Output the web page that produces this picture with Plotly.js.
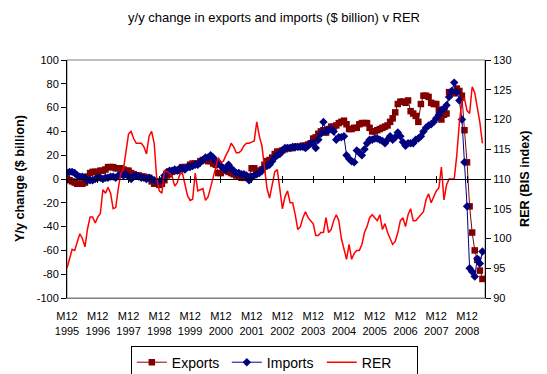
<!DOCTYPE html>
<html>
<head>
<meta charset="utf-8">
<script src="https://cdn.plot.ly/plotly-3.0.1.min.js"></script>
<style>html,body{margin:0;padding:0;background:#fff;}#chart{width:547px;height:374px;}</style>
</head>
<body>
<div id="chart"></div>
<script>
// Monthly categories: M12 1995 ... (163 data months + one empty category)
const startYear = 1995;
const nMonths = 163;
const months = [];
for (let i = 0; i < nMonths + 1; i++) {
  const m = ((11 + i) % 12) + 1;
  const y = startYear + Math.floor((11 + i) / 12);
  months.push('M' + m + ' ' + y);
}

const exportsYY = [
  0, -1, -2, -3, -4, -4, -4, -3, 2, 5,
  6, 6, 6, 7, 7, 8, 10, 10, 10, 9,
  9, 9, 8, 7, 7, 5, 4, 3, 3, 2,
  2, 1, 1, -2, -4, -4, -5, -4, -1, 3,
  4, 6, 7, 7, 8, 10, 10, 10, 12, 13,
  13, 13, 15, 16, 16, 15, 15, 13, 12, 5,
  5, 8, 7, 6, 5, 4, 3, 2, 1, 1,
  1, 2, 9, 9, 7, 6, 8, 12, 15, 16,
  18, 21, 23, 23, 24, 25, 26, 26, 26, 27,
  27, 27, 28, 28, 29, 30, 34, 35, 38, 40,
  41, 39, 42, 44, 44, 45, 47, 48, 49, 46,
  42, 42, 43, 43, 46, 47, 47, 47, 43, 40,
  40, 41, 42, 43, 44, 45, 48, 51, 56, 63,
  65, 65, 64, 66, 57, 55, 53, 48, 63, 70,
  70, 69, 64, 63, 63, 58, 50, 54, 55, 73,
  73, 72, 76, 74, 70, 41, 14, -23, -45, -60,
  -68, -77, -84
];

const importsYY = [
  5, 6, 6, 5, 3, 2, 2, 1, -1, -1,
  -1, 0, 1, 1, 0, 1, 1, 2, 2, 1,
  3, 4, 3, 4, 2, 0, 2, 3, 2, 1,
  1, 0, 1, 0, -1, -2, -2, -1, 3, 6,
  7, 7, 8, 7, 9, 9, 8, 10, 10, 11,
  12, 12, 14, 16, 18, 18, 20, 18, 15, 14,
  11, 9, 8, 12, 9, 7, 5, 5, 4, 4,
  3, -1, 2, 3, 4, 5, 7, 10, 11, 12,
  15, 18, 20, 21, 24, 26, 26, 26, 27, 27,
  27, 27, 27, 26, 28, 30, 30, 26, 33, 38,
  48, 40, 41, 42, 40, 33, 35, 35, 36, 20,
  17, 15, 14, 24, 22, 20, 25, 30, 33, 33,
  34, 34, 33, 32, 30, 33, 36, 33, 35, 39,
  36, 31, 28, 30, 30, 30, 33, 34, 36, 40,
  43, 45, 46, 48, 51, 54, 58, 59, 62, 69,
  74, 81, 73, 66, 50, 14, -23, -75, -78, -82,
  -67, -71, -61
];

const rerIndex = [
  95, 96.8, 98.2, 98, 99.6, 100.8, 100, 98.6, 101.6, 103.6,
  103.6, 102.6, 103.6, 104.2, 108.2, 107.6, 108.6, 107.6, 105, 105.2,
  108.4, 111, 111.6, 115, 117.6, 118, 116.8, 116, 116, 116,
  115.4, 114.2, 117.2, 118, 116, 110, 108, 107.6, 111.4, 111.2,
  111, 110.4, 108.8, 109.4, 110.8, 111, 109.2, 107.2, 106.4, 106.6,
  111, 108, 108.2, 108.4, 106.4, 107, 108.6, 110.4, 112, 113.6,
  112.8, 113, 114, 114.8, 116, 115.4, 114.4, 114.4, 114.8, 115.6,
  116, 116, 116.2, 116.4, 119.6, 117.2, 115.6, 112.4, 108.4, 106.8,
  108.8, 111.2, 111.6, 108, 105, 107, 108, 106, 106, 104,
  101.5, 102, 103.5, 104.5, 103.5, 103, 102.5, 100.5, 100.5, 101,
  101, 103.5, 101, 101.5, 103, 104, 103, 100, 98, 96.5,
  99, 96.5, 97.5, 98, 98, 99, 101, 102, 103.5, 104,
  103.5, 103, 104, 101.5, 102.5, 101, 100, 99, 99.5, 101,
  103, 103.5, 102, 104, 105, 103, 103, 103.5, 104, 104.5,
  106.5, 107.5, 106, 107, 108, 108.5, 112, 106.5, 109, 110,
  110, 110, 114, 119.5, 123, 123.5, 121.5, 121, 125.5, 124.5,
  122, 119.5, 116
];

const leftTicks = [-100, -80, -60, -40, -20, 0, 20, 40, 60, 80, 100];
const rightTicks = [90, 95, 100, 105, 110, 115, 120, 125, 130];

const xIdx = exportsYY.map((_, i) => i);
const tickIdx = [];
const tickText = [];
months.forEach((m, i) => {
  if (m.startsWith('M12 ')) { tickIdx.push(i); tickText.push(m.replace(' ', '<br>')); }
});
const xRange = [0, months.length - 1];

const traces = [
  {x: xIdx, y: exportsYY, name: 'Exports', type: 'scatter', mode: 'lines+markers',
   line: {color: '#800000', width: 1}, marker: {symbol: 'square', size: 6.5, color: '#800000'}},
  {x: xIdx, y: importsYY, name: 'Imports', type: 'scatter', mode: 'lines+markers',
   line: {color: '#000080', width: 1}, marker: {symbol: 'diamond', size: 6.5, color: '#000080'}},
  {x: xIdx, y: rerIndex, name: 'RER', type: 'scatter', mode: 'lines', yaxis: 'y2',
   line: {color: '#FF0000', width: 1.5}},
  {x: [], y: [], xaxis: 'x2', yaxis: 'y', showlegend: false, hoverinfo: 'skip', type: 'scatter'},
  {x: [], y: [], xaxis: 'x3', yaxis: 'y', showlegend: false, hoverinfo: 'skip', type: 'scatter'}
];

const font = {family: 'Arial, "Liberation Sans", sans-serif', color: '#000'};
const zeroAxis = (dir) => ({
  overlaying: 'x', anchor: 'free', position: 0.5, range: xRange,
  tickmode: 'array', tickvals: tickIdx, ticks: dir, ticklen: 3, tickcolor: '#000',
  showticklabels: false, showline: true, linecolor: '#000', linewidth: 1,
  showgrid: false, zeroline: false
});

const layout = {
  width: 547, height: 374,
  margin: {l: 67, r: 62, t: 60, b: 76, autoexpand: false},
  paper_bgcolor: '#fff', plot_bgcolor: '#fff',
  font: Object.assign({size: 11}, font),
  title: {text: 'y/y change in exports and imports ($ billion) v RER',
          font: Object.assign({size: 13}, font),
          x: 0.501, xref: 'container', xanchor: 'center',
          y: 1 - 17 / 374, yref: 'container', yanchor: 'middle'},
  showlegend: true,
  legend: {orientation: 'h', x: 0.496, xanchor: 'center', y: -0.2, yanchor: 'top',
           bordercolor: '#000', borderwidth: 1, font: Object.assign({size: 14}, font),
           itemwidth: 30, tracegroupgap: 0, entrywidth: 50, entrywidthmode: 'pixels'},
  xaxis: {range: xRange, tickmode: 'array', tickvals: tickIdx, ticktext: tickText,
          showline: true, linecolor: '#808080', linewidth: 1, mirror: false, automargin: false,
          ticks: 'outside', ticklen: 8, tickcolor: 'rgba(0,0,0,0)',
          showgrid: false, zeroline: false, tickfont: Object.assign({size: 11}, font)},
  xaxis2: zeroAxis('outside'),
  xaxis3: zeroAxis('inside'),
  yaxis: {range: [-100, 100], tickmode: 'array', tickvals: leftTicks, ticktext: leftTicks.map(String),
          ticks: 'outside', ticklen: 5, tickcolor: '#000', showline: true, linecolor: '#000', automargin: false,
          showgrid: false, zeroline: false, tickfont: Object.assign({size: 11}, font)},
  yaxis2: {overlaying: 'y', side: 'right', range: [90, 130], tickmode: 'array',
           tickvals: rightTicks, ticktext: rightTicks.map(String), automargin: false,
           ticks: 'outside', ticklen: 5, tickcolor: '#000', showline: true, linecolor: '#000',
           showgrid: false, zeroline: false, tickfont: Object.assign({size: 11}, font)},
  shapes: [{type: 'rect', xref: 'paper', yref: 'paper', x0: 0, x1: 1, y0: 0, y1: 1,
            line: {color: '#808080', width: 1}, layer: 'below'}],
  annotations: [
    {text: '<b>Y/y change ($ billion)</b>', xref: 'paper', yref: 'paper', x: -0.1124, y: 0.5,
     textangle: -90, showarrow: false, xanchor: 'center', yanchor: 'middle',
     font: Object.assign({size: 12.7}, font)},
    {text: '<b>RER (BIS index)</b>', xref: 'paper', yref: 'paper', x: 1.0957, y: 0.5,
     textangle: -90, showarrow: false, xanchor: 'center', yanchor: 'middle',
     font: Object.assign({size: 12.7}, font)}
  ]
};

Plotly.newPlot('chart', traces, layout, {staticPlot: true, displayModeBar: false});
</script>
</body>
</html>
